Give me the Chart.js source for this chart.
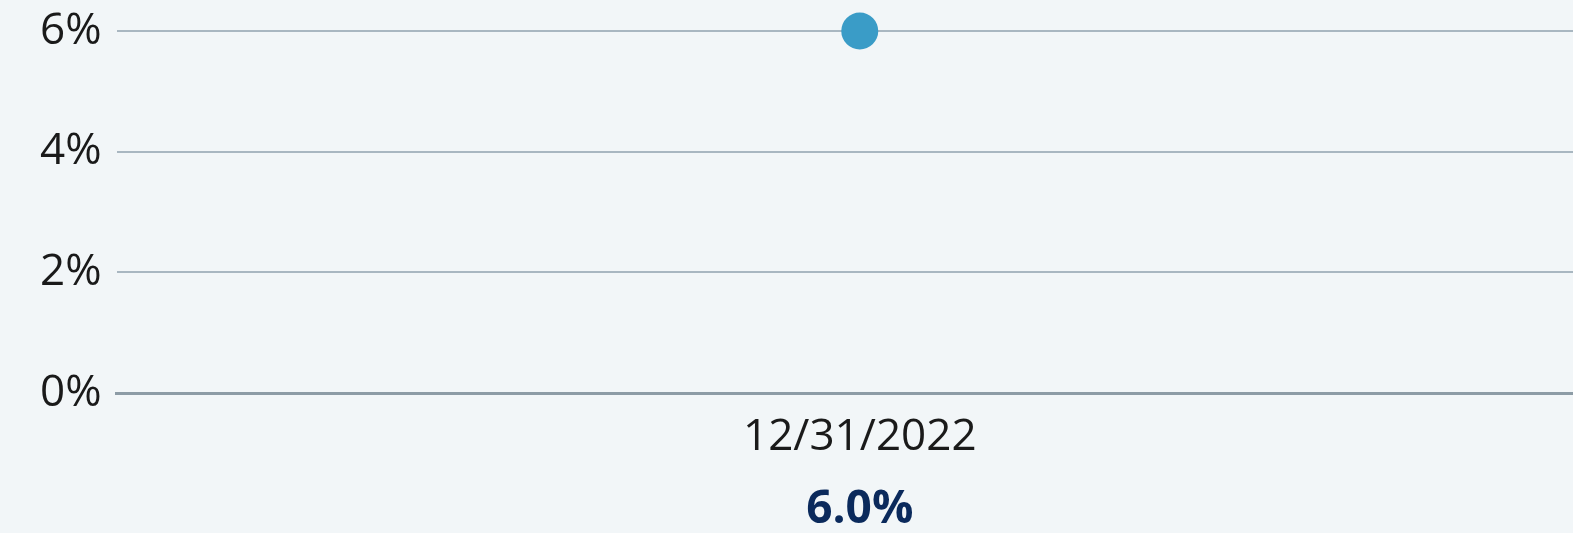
<!DOCTYPE html>
<html>
<head>
<meta charset="utf-8">
<script src="https://cdn.jsdelivr.net/npm/chart.js@4/dist/chart.umd.min.js"></script>
<style>
  html, body { margin: 0; padding: 0; background: #f2f6f8; overflow: hidden; }
  #c { display: block; }
</style>
</head>
<body>
<canvas id="c" width="1603" height="533"></canvas>
<script>
const categories = ["12/31/2022"];
const seriesValues = [6.0];
const valueLabels = seriesValues.map(v => v.toFixed(1) + "%");
const yTicks = [0, 2, 4, 6];

const FONT = "'Open Sans', 'Noto Sans', sans-serif";
const noSidePad = (s) => { s.paddingLeft = 0; s.paddingRight = 0; };

new Chart(document.getElementById('c'), {
  type: 'line',
  data: {
    labels: categories,
    datasets: [{
      data: seriesValues,
      showLine: false,
      pointRadius: 18.5,
      pointHoverRadius: 18.5,
      pointBackgroundColor: '#3a9cc7',
      pointBorderWidth: 0,
      clip: false,
      xAxisID: 'x',
      yAxisID: 'y'
    }]
  },
  options: {
    responsive: false,
    maintainAspectRatio: false,
    devicePixelRatio: 1,
    animation: false,
    events: [],
    layout: { autoPadding: false, padding: { top: 31, left: 25, right: 0, bottom: -4 } },
    plugins: { legend: { display: false }, tooltip: { enabled: false } },
    scales: {
      x: {
        type: 'category',
        position: 'bottom',
        offset: true,
        afterFit: noSidePad,
        grid: { display: false, drawTicks: false },
        border: { display: true, color: '#8d9ca6', width: 3 },
        ticks: { padding: 18, color: '#1a1a1a', font: { family: FONT, size: 44 }, maxRotation: 0 }
      },
      x2: {
        type: 'category',
        position: 'bottom',
        labels: valueLabels,
        offset: true,
        afterFit: noSidePad,
        grid: { display: false, drawTicks: false },
        border: { display: false },
        ticks: { padding: 0, color: '#0b2a5c', font: { family: FONT, size: 46, weight: 'bold' }, maxRotation: 0 }
      },
      y: {
        min: 0,
        max: 6,
        afterBuildTicks: (s) => { s.ticks = yTicks.map(v => ({ value: v })); },
        afterFit: (s) => { s.paddingTop = 0; s.paddingBottom = 0; },
        grid: { color: '#a9b7c1', lineWidth: 2, drawTicks: false },
        border: { display: false },
        ticks: {
          padding: 15,
          color: '#1a1a1a',
          font: { family: FONT, size: 44 },
          callback: (v) => v + '%'
        }
      }
    }
  }
});
</script>
</body>
</html>
